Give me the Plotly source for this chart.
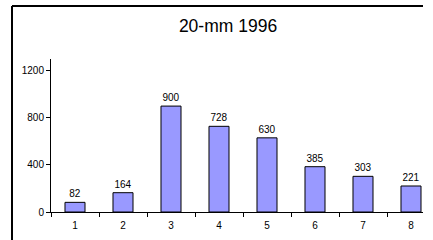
import plotly.graph_objects as go

categories = ["1", "2", "3", "4", "5", "6", "7", "8"]
values = [82, 164, 900, 728, 630, 385, 303, 221]
y_ticks = [0, 400, 800, 1200]
title_text = "20-mm 1996"

W, H = 433, 240
L, R, T, B = 51, 10, 59, 28
pw = W - L - R
ph = H - T - B

FONT = "Liberation Sans, Arial"

fig = go.Figure(
    go.Bar(
        x=categories,
        y=values,
        text=[str(v) for v in values],
        textposition="outside",
        textfont=dict(family=FONT, size=10, color="#000000"),
        cliponaxis=False,
        marker=dict(color="#9999FF", line=dict(color="#000000", width=1)),
        hoverinfo="skip",
    )
)

# outer chart border: left and top edges (right/bottom lie outside the window)
bx0 = (12 - L) / pw
by1 = (H - B - 6) / ph
fig.add_shape(type="line", xref="paper", yref="paper",
              x0=bx0, x1=bx0, y0=-(B + 2) / ph, y1=by1,
              line=dict(color="#000000", width=2))
fig.add_shape(type="line", xref="paper", yref="paper",
              x0=bx0, x1=1.0, y0=by1, y1=by1,
              line=dict(color="#000000", width=2))

fig.update_layout(
    width=W, height=H,
    margin=dict(l=L, r=R, t=T, b=B, pad=0),
    paper_bgcolor="#FFFFFF",
    plot_bgcolor="#FFFFFF",
    showlegend=False,
    bargap=0.583,
    title=dict(
        text=title_text, x=228 / W, xanchor="center",
        y=1 - 25.5 / H, yanchor="middle",
        font=dict(family=FONT, size=17.5, color="#000000"),
    ),
    xaxis=dict(
        type="category",
        range=[-0.5, -0.5 + pw / 48.0],
        showgrid=False, zeroline=False,
        showline=True, linecolor="#000000", linewidth=1,
        ticks="outside", tickson="boundaries", ticklen=4, tickcolor="#000000",
        ticklabelstandoff=4,
        tickfont=dict(family=FONT, size=10, color="#000000"),
        fixedrange=True,
    ),
    yaxis=dict(
        range=[0, 1300],
        tickvals=y_ticks,
        ticktext=[str(v) for v in y_ticks],
        showgrid=False, zeroline=False,
        showline=True, linecolor="#000000", linewidth=1,
        ticks="outside", ticklen=4, tickcolor="#000000",
        tickfont=dict(family=FONT, size=10, color="#000000"),
        fixedrange=True,
    ),
)

fig.write_html(
    "out.html",
    config={"displayModeBar": False},
    post_script=(
        "document.body.style.margin='0';"
        "document.body.style.overflow='hidden';"
        "document.documentElement.style.overflow='hidden';"
    ),
)
